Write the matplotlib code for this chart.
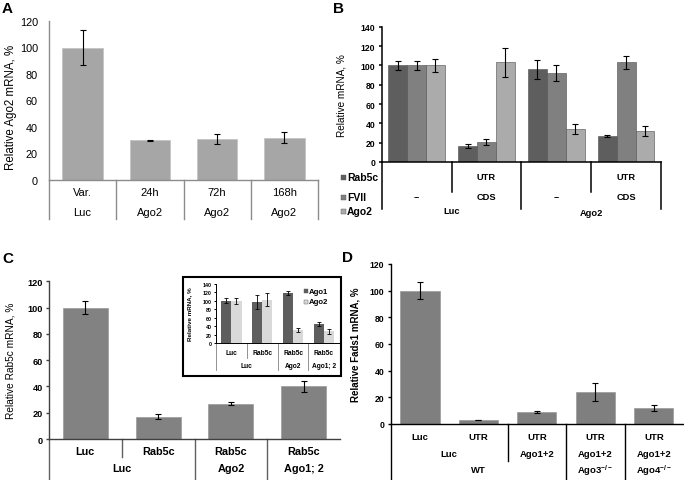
import matplotlib.pyplot as plt
from matplotlib import transforms
from matplotlib.lines import Line2D
from matplotlib.patches import Rectangle

# ---- data ----
A_top = ["Var.", "24h", "72h", "168h"]
A_bottom = ["Luc", "Ago2", "Ago2", "Ago2"]
A_values = [100, 30, 31, 32]
A_err = [13, 0.5, 4, 4]

B_series = ["Rab5c", "FVII", "Ago2"]
B_rab5c = [100, 17, 96, 27]
B_fvii = [100, 21, 92, 103]
B_ago2 = [100, 103, 34, 32]
B_rab5c_err = [5, 2, 10, 1]
B_fvii_err = [5, 3, 8, 7]
B_ago2_err = [7, 15, 5, 5]
B_row1 = ["", "UTR", "", "UTR"]
B_row2 = ["--", "CDS", "--", "CDS"]
B_row3 = ["Luc", "Ago2"]

C_row1 = ["Luc", "Rab5c", "Rab5c", "Rab5c"]
C_row2 = ["Luc", "Ago2", "Ago1; 2"]
C_values = [100, 17, 27, 40]
C_err = [5, 2, 1, 4.5]

INSET_series = ["Ago1", "Ago2"]
INSET_ago1 = [100, 98, 119, 46]
INSET_ago2 = [100, 103, 31, 28]
INSET_ago1_err = [6, 16, 5, 4]
INSET_ago2_err = [8, 15, 5, 5]

D_row1 = ["Luc", "UTR", "UTR", "UTR", "UTR"]
D_row2 = ["Luc", "Ago1+2", "Ago1+2", "Ago1+2"]
D_row3 = ["WT", r"Ago3$^{\mathbf{-/-}}$", r"Ago4$^{\mathbf{-/-}}$"]
D_values = [100, 3, 9, 24, 12]
D_err = [6.5, 0.3, 0.5, 6.5, 2.5]

W, H = 684, 481
plt.rcParams["font.family"] = ["Liberation Sans", "DejaVu Sans"]
plt.rcParams["mathtext.fontset"] = "custom"
plt.rcParams["mathtext.rm"] = "Liberation Sans"
plt.rcParams["mathtext.bf"] = "Liberation Sans:bold"

fig = plt.figure(figsize=(W / 100, H / 100), dpi=100)


def add_axes(box):
    x0, x1, yt, yb = box
    return fig.add_axes([x0 / W, 1 - yb / H, (x1 - x0) / W, (yb - yt) / H])


def yfrac(box, ypx):
    return (box[3] - ypx) / (box[3] - box[2])


def style(ax, n, ymax, step, size, weight, color, lw, tick_len, pad):
    ax.set_xlim(-0.5, n - 0.5)
    ax.set_ylim(0, ymax)
    ax.set_yticks(range(0, ymax + 1, step))
    ax.set_xticks([])
    for s in ["top", "right"]:
        ax.spines[s].set_visible(False)
    for s in ["left", "bottom"]:
        ax.spines[s].set_color(color)
        ax.spines[s].set_linewidth(lw)
    ax.tick_params(axis="y", length=tick_len, width=lw, color=color,
                   labelsize=size, pad=pad)
    for lab in ax.get_yticklabels():
        lab.set_fontweight(weight)
    ax.patch.set_alpha(0)


def cat_text(ax, box, x, ypx, text, size, weight):
    trans = transforms.blended_transform_factory(ax.transData, ax.transAxes)
    ax.text(x, yfrac(box, ypx), text, transform=trans, ha="center", va="center",
            fontsize=size, fontweight=weight, clip_on=False)


def cat_line(ax, box, x, ypx, color, lw):
    trans = transforms.blended_transform_factory(ax.transData, ax.transAxes)
    ax.add_line(Line2D([x, x], [0, yfrac(box, ypx)], transform=trans,
                       color=color, lw=lw, clip_on=False))


def fig_key(xpx, ypx, size_px, color, text, fsize):
    fig.patches.append(Rectangle(((xpx) / W, 1 - (ypx + size_px / 2) / H),
                                 size_px / W, size_px / H, transform=fig.transFigure,
                                 facecolor=color, edgecolor="#555555", lw=0.3,
                                 zorder=7))
    fig.text((xpx + size_px + 1.5) / W, 1 - ypx / H, text, fontsize=fsize,
             fontweight="bold", va="center", ha="left", zorder=7)


EB = dict(fmt="none", ecolor="black", elinewidth=0.8, capsize=2, capthick=0.8)

# ---- panel A ----
boxA = (49, 318, 22, 181)
axA = add_axes(boxA)
style(axA, 4, 120, 20, 7.8, "normal", "#8c8c8c", 1.0, 0, 8)
xa = range(len(A_values))
axA.bar(xa, A_values, width=0.6, color="#a6a6a6", edgecolor="#c4c4c4", lw=0.6)
axA.errorbar(xa, A_values, yerr=A_err, **EB)
for i in xa:
    cat_text(axA, boxA, i, 193, A_top[i], 8, "normal")
    cat_text(axA, boxA, i, 213, A_bottom[i], 8, "normal")
for b in [-0.5, 0.5, 1.5, 2.5, 3.5]:
    cat_line(axA, boxA, b, 220, "#8c8c8c", 1.0)
axA.set_ylabel("Relative Ago2 mRNA, %", fontsize=8.3)
axA.yaxis.set_label_coords((17 - 49) / 269, 0.46)
fig.text(2 / W, 1 - 2 / H, "A", fontsize=11, fontweight="bold", va="top")

# ---- panel B ----
boxB = (381.7, 661, 27.7, 163)
axB = add_axes(boxB)
style(axB, 4, 140, 20, 6.2, "bold", "black", 1.1, 2.5, 2)
bw = 0.27
colorsB = ["#5e5e5e", "#808080", "#ababab"]
for k, (vals, errs) in enumerate([(B_rab5c, B_rab5c_err), (B_fvii, B_fvii_err),
                                  (B_ago2, B_ago2_err)]):
    xs = [g + (k - 1) * bw for g in range(4)]
    axB.bar(xs, vals, width=bw, color=colorsB[k], edgecolor="#4d4d4d", lw=0.4)
    axB.errorbar(xs, vals, yerr=errs, **EB)
for g in range(4):
    if B_row1[g]:
        cat_text(axB, boxB, g, 178, B_row1[g], 6.7, "bold")
    cat_text(axB, boxB, g, 198, B_row2[g], 6.7, "bold")
cat_text(axB, boxB, 0.5, 212, B_row3[0], 6.7, "bold")
cat_text(axB, boxB, 2.5, 213, B_row3[1], 6.7, "bold")
for b, yb in [(-0.5, 210), (0.5, 193), (1.5, 210), (2.5, 193), (3.5, 210)]:
    cat_line(axB, boxB, b, yb, "black", 1.1)
axB.set_ylabel("Relative mRNA, %", fontsize=7.2)
axB.yaxis.set_label_coords((347 - 381.7) / 279, 0.5)
for ypx, col, name in zip([178, 198, 212], colorsB, B_series):
    fig_key(340.5, ypx, 5, col, name, 7.5)
fig.text(333 / W, 1 - 2 / H, "B", fontsize=11, fontweight="bold", va="top")

# ---- panel C ----
boxC = (49, 340, 282.3, 440)
axC = add_axes(boxC)
style(axC, 4, 120, 20, 6.6, "bold", "#404040", 1.0, 2.5, 2)
xc = range(len(C_values))
axC.bar(xc, C_values, width=0.62, color="#828282", edgecolor="#9a9a9a", lw=0.5)
axC.errorbar(xc, C_values, yerr=C_err, **EB)
for i in xc:
    cat_text(axC, boxC, i, 452, C_row1[i], 7.8, "bold")
cat_text(axC, boxC, 0.5, 469, C_row2[0], 7.8, "bold")
cat_text(axC, boxC, 2, 469, C_row2[1], 7.8, "bold")
cat_text(axC, boxC, 3, 469, C_row2[2], 7.8, "bold")
for b, yb in [(-0.5, 481), (0.5, 458), (1.5, 481), (2.5, 481)]:
    cat_line(axC, boxC, b, yb, "#606060", 1.0)
axC.set_ylabel("Relative Rab5c mRNA, %", fontsize=7.3)
axC.yaxis.set_label_coords((16 - 49) / 291, 0.5)
fig.text(2 / W, 1 - 252 / H, "C", fontsize=11, fontweight="bold", va="top")

# inset frame
fig.patches.append(Rectangle((182.7 / W, 1 - 376.7 / H), (341 - 182.7) / W,
                             (376.7 - 277.7) / H, transform=fig.transFigure,
                             facecolor="white", edgecolor="black", lw=1.5,
                             zorder=5))
boxI = (216, 339.3, 285, 344.3)
axI = add_axes(boxI)
axI.set_zorder(6)
style(axI, 4, 140, 20, 3.8, "bold", "black", 0.7, 1.5, 1.5)
bi = 0.33
colorsI = ["#5e5e5e", "#d9d9d9"]
for k, (vals, errs) in enumerate([(INSET_ago1, INSET_ago1_err),
                                  (INSET_ago2, INSET_ago2_err)]):
    xs = [g + (k - 0.5) * bi for g in range(4)]
    axI.bar(xs, vals, width=bi, color=colorsI[k], edgecolor="none")
    axI.errorbar(xs, vals, yerr=errs, fmt="none", ecolor="black",
                 elinewidth=0.6, capsize=1.5, capthick=0.6)
for g in range(4):
    cat_text(axI, boxI, g, 353.3, C_row1[g], 4.8, "bold")
cat_text(axI, boxI, 0.5, 366, C_row2[0], 4.8, "bold")
cat_text(axI, boxI, 2, 366, C_row2[1], 4.8, "bold")
cat_text(axI, boxI, 3, 366, C_row2[2], 4.8, "bold")
for b, yb in [(-0.5, 371), (0.5, 359), (1.5, 371), (2.5, 371)]:
    cat_line(axI, boxI, b, yb, "#808080", 0.6)
axI.set_ylabel("Relative mRNA, %", fontsize=4.5, fontweight="bold")
axI.yaxis.set_label_coords((192 - 216) / 123, 0.5)
for ypx, col, name in zip([292, 303], colorsI, INSET_series):
    fig_key(304, ypx, 3.5, col, name, 5.6)

# ---- panel D ----
boxD = (390.7, 683, 265, 425)
axD = add_axes(boxD)
style(axD, 5, 120, 20, 6.2, "bold", "black", 1.0, 2, 2.5)
xd = range(len(D_values))
axD.bar(xd, D_values, width=0.67, color="#7f7f7f", edgecolor="#9a9a9a", lw=0.5)
axD.errorbar(xd, D_values, yerr=D_err, **EB)
for i in xd:
    cat_text(axD, boxD, i, 437.3, D_row1[i], 6.8, "bold")
cat_text(axD, boxD, 0.5, 455, D_row2[0], 6.8, "bold")
for i, name in enumerate(D_row2[1:]):
    cat_text(axD, boxD, i + 2, 455, name, 6.8, "bold")
cat_text(axD, boxD, 1, 471, D_row3[0], 6.8, "bold")
cat_text(axD, boxD, 3, 471, D_row3[1], 6.8, "bold")
cat_text(axD, boxD, 4, 471, D_row3[2], 6.8, "bold")
for b, yb in [(-0.5, 481), (1.5, 461.7), (2.5, 481), (3.5, 481)]:
    cat_line(axD, boxD, b, yb, "black", 1.0)
axD.set_ylabel("Relative Fads1 mRNA, %", fontsize=7, fontweight="bold")
axD.yaxis.set_label_coords((361 - 390.7) / 292, 0.5)
fig.text(342 / W, 1 - 251 / H, "D", fontsize=11, fontweight="bold", va="top")

fig.savefig("out.png", dpi=100)
